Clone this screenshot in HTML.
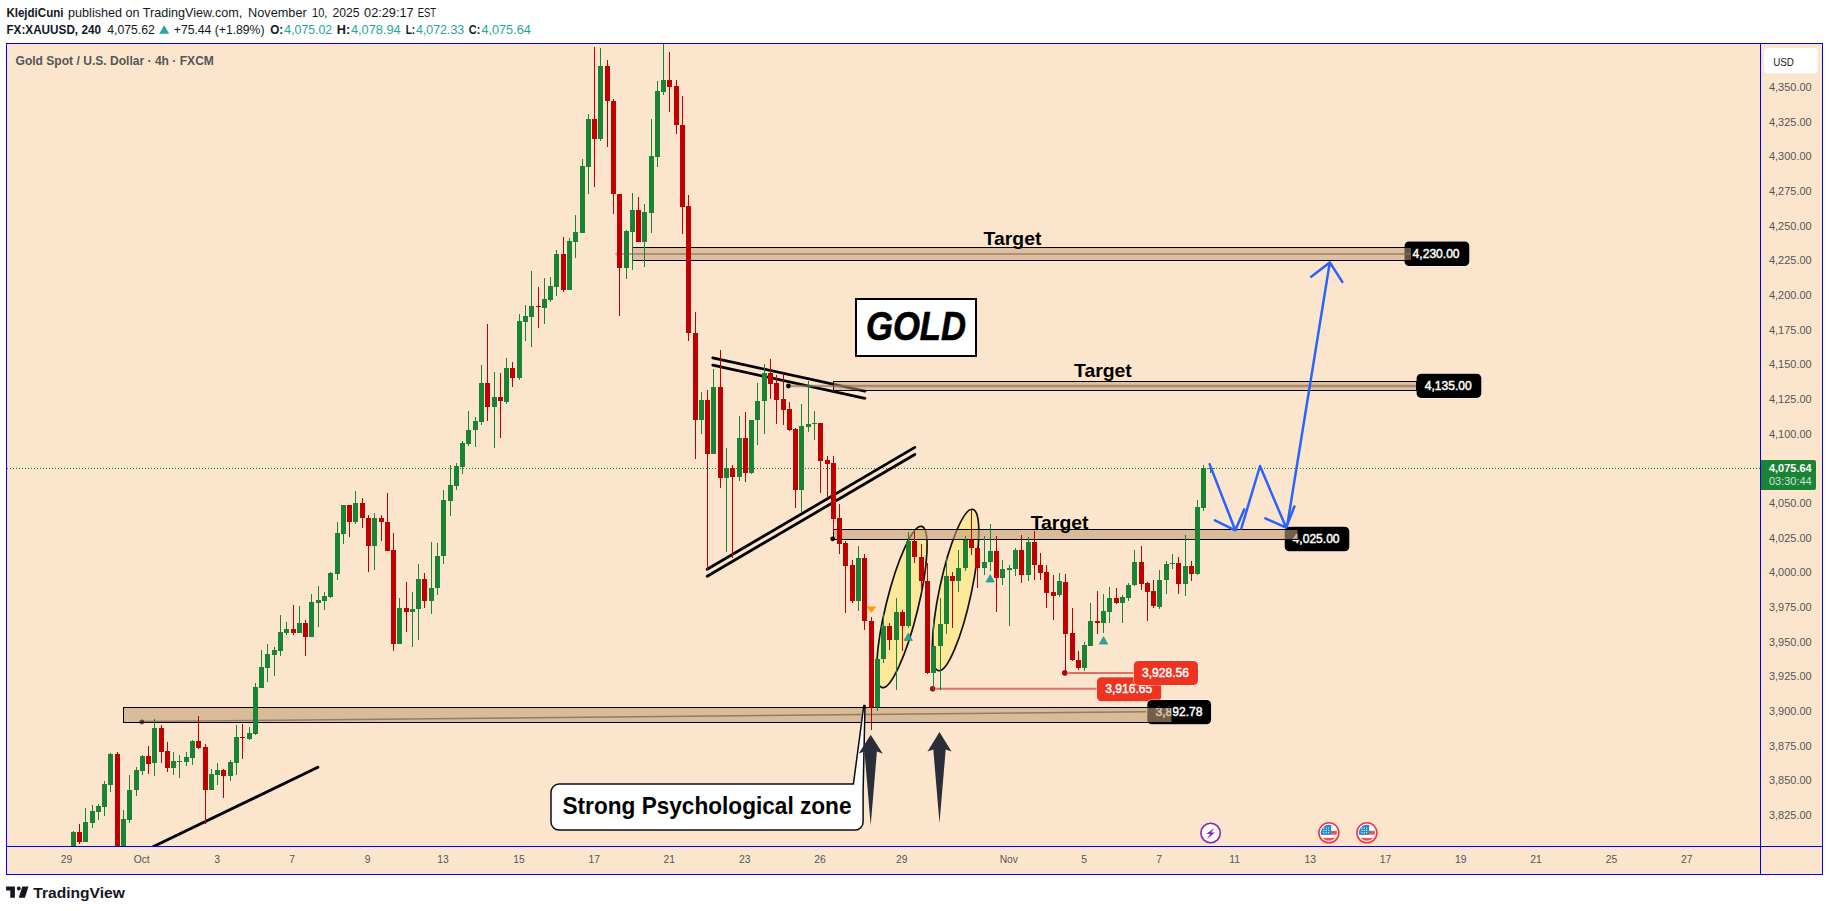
<!DOCTYPE html>
<html lang="en"><head><meta charset="utf-8"><title>XAUUSD chart</title>
<style>
html,body{margin:0;padding:0;background:#fff;}
body{width:1829px;height:911px;overflow:hidden;position:relative;font-family:"Liberation Sans", Arial, sans-serif;}
svg{position:absolute;left:0;top:0;display:block;}
text{font-family:"Liberation Sans", Arial, sans-serif;}
.b{font-weight:bold;}
</style></head><body>
<svg width="1829" height="911" viewBox="0 0 1829 911">

<g fill="#131722" font-size="12.6px">
<text x="6.4" y="16.5" class="b" textLength="57.1" lengthAdjust="spacingAndGlyphs">KlejdiCuni</text>
<text x="68.1" y="16.5" textLength="174.1" lengthAdjust="spacingAndGlyphs">published on TradingView.com,</text>
<text x="248" y="16.5" textLength="58.7" lengthAdjust="spacingAndGlyphs">November</text>
<text x="312" y="16.5" textLength="15.4" lengthAdjust="spacingAndGlyphs">10,</text>
<text x="332.4" y="16.5" textLength="27.1" lengthAdjust="spacingAndGlyphs">2025</text>
<text x="364.1" y="16.5" textLength="49.5" lengthAdjust="spacingAndGlyphs">02:29:17</text>
<text x="417.7" y="16.5" textLength="18.4" lengthAdjust="spacingAndGlyphs">EST</text>
<text x="6.4" y="33.7" class="b" textLength="94.6" lengthAdjust="spacingAndGlyphs">FX:XAUUSD, 240</text>
<text x="107.2" y="33.7" textLength="47.7" lengthAdjust="spacingAndGlyphs">4,075.62</text>
<path d="M159.2 33.7 L164.2 25.3 L169.2 33.7 Z" fill="#26a69a"/>
<text x="173.8" y="33.7" textLength="90.7" lengthAdjust="spacingAndGlyphs">+75.44 (+1.89%)</text>
<text x="270.2" y="33.7" class="b" textLength="13.0" lengthAdjust="spacingAndGlyphs">O:</text>
<text x="284.3" y="33.7" fill="#26a69a" textLength="47.9" lengthAdjust="spacingAndGlyphs">4,075.02</text>
<text x="336.8" y="33.7" class="b" textLength="13.4" lengthAdjust="spacingAndGlyphs">H:</text>
<text x="350.9" y="33.7" fill="#26a69a" textLength="49.8" lengthAdjust="spacingAndGlyphs">4,078.94</text>
<text x="405.7" y="33.7" class="b" textLength="9.5" lengthAdjust="spacingAndGlyphs">L:</text>
<text x="416.0" y="33.7" fill="#26a69a" textLength="48.2" lengthAdjust="spacingAndGlyphs">4,072.33</text>
<text x="468.8" y="33.7" class="b" textLength="11.5" lengthAdjust="spacingAndGlyphs">C:</text>
<text x="481.4" y="33.7" fill="#26a69a" textLength="49.4" lengthAdjust="spacingAndGlyphs">4,075.64</text>
</g>
<rect x="6.5" y="43.5" width="1816" height="831" fill="#fce5cd" stroke="#0000ff" stroke-width="1"/>
<path d="M1760.5 43.5 V874.5 M6.5 846.5 H1822.5" stroke="#0000ff" stroke-width="1" fill="none"/>
<defs><clipPath id="cc"><rect x="7" y="44" width="1753" height="802"/></clipPath></defs>
<g clip-path="url(#cc)">
<path d="M7 468.5 H1760" stroke="#188434" stroke-width="1" stroke-dasharray="1 2" fill="none" shape-rendering="crispEdges"/>
<path d="M1064.8 672.9 H1134 M932.7 688.8 H1097" stroke="#e26e64" stroke-width="2" fill="none"/>
<circle cx="1064.8" cy="672.9" r="3.6" fill="#fff" fill-opacity=".7"/><circle cx="1064.8" cy="672.9" r="2.8" fill="#c00000"/>
<circle cx="932.7" cy="688.8" r="3.6" fill="#fff" fill-opacity=".7"/><circle cx="932.7" cy="688.8" r="2.8" fill="#c00000"/>
<rect x="1096.4" y="676.7" width="65.3" height="25" rx="5" fill="#fff" fill-opacity="0.75"/>
<rect x="1096.9" y="677.2" width="64.3" height="24" rx="4.5" fill="#ee3320"/>
<text x="1105.3" y="693.4" fill="#fff" font-size="12px" stroke="#fff" stroke-width="0.45" textLength="47" lengthAdjust="spacingAndGlyphs">3,916.65</text>
<rect x="1133.3" y="660.4" width="65.2" height="25.2" rx="5" fill="#fff" fill-opacity="0.75"/>
<rect x="1133.8" y="660.9" width="64.2" height="24.2" rx="4.5" fill="#ee3320"/>
<text x="1142" y="677.2" fill="#fff" font-size="12px" stroke="#fff" stroke-width="0.45" textLength="47" lengthAdjust="spacingAndGlyphs">3,928.56</text>
<rect x="1146.8" y="699.4" width="64.8" height="25.4" rx="5" fill="#fff" fill-opacity="0.75"/>
<rect x="1147.3" y="699.9" width="63.8" height="24.4" rx="4.5" fill="#000"/>
<text x="1155.5" y="716.3" fill="#fff" font-size="12px" stroke="#fff" stroke-width="0.45" textLength="47" lengthAdjust="spacingAndGlyphs">3,892.78</text>
<rect x="1284.2" y="526.2" width="65.6" height="25.6" rx="5" fill="#fff" fill-opacity="0.75"/>
<rect x="1284.7" y="526.7" width="64.6" height="24.6" rx="4.5" fill="#000"/>
<text x="1292.6" y="543.2" fill="#fff" font-size="12px" stroke="#fff" stroke-width="0.45" textLength="47" lengthAdjust="spacingAndGlyphs">4,025.00</text>
<rect x="1404.0" y="241.0" width="65.8" height="25.6" rx="5" fill="#fff" fill-opacity="0.75"/>
<rect x="1404.5" y="241.5" width="64.8" height="24.6" rx="4.5" fill="#000"/>
<text x="1412.6" y="258.0" fill="#fff" font-size="12px" stroke="#fff" stroke-width="0.45" textLength="47" lengthAdjust="spacingAndGlyphs">4,230.00</text>
<rect x="1416.1" y="373.2" width="65.7" height="25.2" rx="5" fill="#fff" fill-opacity="0.75"/>
<rect x="1416.6" y="373.7" width="64.7" height="24.2" rx="4.5" fill="#000"/>
<text x="1424.8" y="390.0" fill="#fff" font-size="12px" stroke="#fff" stroke-width="0.45" textLength="47" lengthAdjust="spacingAndGlyphs">4,135.00</text>
<ellipse cx="901.9" cy="607" rx="16" ry="83" transform="rotate(13.8 901.9 607)" fill="#ffeb3b" fill-opacity="0.36" stroke="#111" stroke-width="1.7"/>
<ellipse cx="955.6" cy="590" rx="16" ry="82.5" transform="rotate(12 955.6 590)" fill="#ffeb3b" fill-opacity="0.36" stroke="#111" stroke-width="1.7"/>
<path d="M712.8 357.9 L864.9 391.2 M712.8 365.2 L864.9 398.3" stroke="#000" stroke-width="2.8" stroke-linecap="round" fill="none"/>
<rect x="632.5" y="247.5" width="779.0" height="13.0" fill="#c29c76" fill-opacity="0.52" stroke="#000" stroke-width="1"/>
<path d="M617 254 H1411" stroke="#8a6f58" stroke-opacity=".6" stroke-width="2.2" fill="none"/>
<rect x="833.5" y="381.5" width="583.0" height="9.0" fill="#c29c76" fill-opacity="0.5" stroke="#000" stroke-width="1"/>
<path d="M788.4 386 H1416" stroke="#8a6f58" stroke-opacity=".65" stroke-width="2.4" fill="none"/>
<rect x="833.5" y="529.5" width="464.5" height="10.0" fill="#c29c76" fill-opacity="0.6" stroke="#000" stroke-width="1"/>
<rect x="123.5" y="707.5" width="1048.5" height="15.0" fill="#c29c76" fill-opacity="0.6" stroke="#000" stroke-width="1"/>
<path d="M141.8 721.5 L1146 711.8" stroke="#7d6651" stroke-opacity=".75" stroke-width="1.5" fill="none"/>
<circle cx="788.4" cy="386" r="2.4" fill="#000"/><circle cx="832.7" cy="538.8" r="2.4" fill="#000"/><circle cx="141.8" cy="722" r="2.4" fill="#000" fill-opacity=".6"/><circle cx="617" cy="254" r="1.8" fill="#888" fill-opacity=".6"/>
<g stroke="#000" stroke-width="2.8" stroke-linecap="round" fill="none">
<path d="M707.2 569.3 L914.8 447.4 M707.2 576.3 L914.8 454.5"/>
<path d="M150 848.2 L317.9 767.3"/>
</g>
<path d="M866.3 606.6 h10 l-5 6.5 z" fill="#ff9800"/>
<path d="M904.0 640.5 h8.4 l-4.2 -7.5 z" fill="#26a69a" stroke="#1b8a80" stroke-width=".6"/>
<path d="M986.0 582.1 h8.4 l-4.2 -7.5 z" fill="#26a69a" stroke="#1b8a80" stroke-width=".6"/>
<path d="M1099.3 644.1 h8.4 l-4.2 -7.5 z" fill="#26a69a" stroke="#1b8a80" stroke-width=".6"/>
<path d="M1207 468.5 h8 M1210.5 464 v9" stroke="#188434" stroke-width="1" shape-rendering="crispEdges"/>
<g stroke="#2962ff" stroke-width="2.5" stroke-linecap="round" stroke-linejoin="round" fill="none">
<path d="M1209.6 464.1 L1235.3 530.3 M1214.9 520.4 L1235.3 530.3 L1244.2 509.4"/>
<path d="M1241.3 528.5 L1260 466 L1286.1 527.6 M1265.4 518.4 L1286.1 527.6 L1294.4 506.5"/>
<path d="M1287.4 524.3 L1329.8 262.4 M1311.2 276.7 L1329.8 262.4 L1342.3 281.9"/>
</g>
<g shape-rendering="crispEdges">
<rect x="73" y="831" width="1" height="19" fill="#188434"/><rect x="71" y="832" width="5" height="18" fill="#188434"/>
<rect x="79" y="824" width="1" height="20" fill="#c00000"/><rect x="77" y="832" width="5" height="10" fill="#c00000"/>
<rect x="85" y="808" width="1" height="34" fill="#188434"/><rect x="83" y="822" width="5" height="20" fill="#188434"/>
<rect x="92" y="805" width="1" height="23" fill="#188434"/><rect x="90" y="811" width="5" height="12" fill="#188434"/>
<rect x="98" y="804" width="1" height="16" fill="#188434"/><rect x="96" y="806" width="5" height="6" fill="#188434"/>
<rect x="104" y="781" width="1" height="35" fill="#188434"/><rect x="102" y="784" width="5" height="23" fill="#188434"/>
<rect x="110" y="753" width="1" height="39" fill="#188434"/><rect x="108" y="754" width="5" height="31" fill="#188434"/>
<rect x="117" y="752" width="1" height="98" fill="#c00000"/><rect x="115" y="754" width="5" height="96" fill="#c00000"/>
<rect x="123" y="810" width="1" height="40" fill="#188434"/><rect x="121" y="819" width="5" height="31" fill="#188434"/>
<rect x="129" y="775" width="1" height="48" fill="#188434"/><rect x="127" y="790" width="5" height="30" fill="#188434"/>
<rect x="136" y="767" width="1" height="29" fill="#188434"/><rect x="134" y="770" width="5" height="20" fill="#188434"/>
<rect x="142" y="755" width="1" height="20" fill="#188434"/><rect x="140" y="756" width="5" height="15" fill="#188434"/>
<rect x="148" y="746" width="1" height="28" fill="#c00000"/><rect x="146" y="756" width="5" height="8" fill="#c00000"/>
<rect x="154" y="719" width="1" height="57" fill="#188434"/><rect x="152" y="728" width="5" height="35" fill="#188434"/>
<rect x="161" y="725" width="1" height="38" fill="#c00000"/><rect x="159" y="728" width="5" height="24" fill="#c00000"/>
<rect x="167" y="742" width="1" height="30" fill="#c00000"/><rect x="165" y="751" width="5" height="17" fill="#c00000"/>
<rect x="173" y="752" width="1" height="23" fill="#188434"/><rect x="171" y="761" width="5" height="7" fill="#188434"/>
<rect x="179" y="755" width="1" height="23" fill="#188434"/><rect x="177" y="761" width="5" height="1" fill="#188434"/>
<rect x="186" y="752" width="1" height="14" fill="#188434"/><rect x="184" y="757" width="5" height="5" fill="#188434"/>
<rect x="192" y="740" width="1" height="25" fill="#188434"/><rect x="190" y="741" width="5" height="17" fill="#188434"/>
<rect x="198" y="716" width="1" height="33" fill="#c00000"/><rect x="196" y="741" width="5" height="7" fill="#c00000"/>
<rect x="205" y="744" width="1" height="80" fill="#c00000"/><rect x="203" y="747" width="5" height="43" fill="#c00000"/>
<rect x="211" y="769" width="1" height="21" fill="#188434"/><rect x="209" y="774" width="5" height="16" fill="#188434"/>
<rect x="217" y="763" width="1" height="22" fill="#188434"/><rect x="215" y="770" width="5" height="5" fill="#188434"/>
<rect x="223" y="769" width="1" height="29" fill="#c00000"/><rect x="221" y="770" width="5" height="6" fill="#c00000"/>
<rect x="230" y="760" width="1" height="21" fill="#188434"/><rect x="228" y="762" width="5" height="14" fill="#188434"/>
<rect x="236" y="725" width="1" height="50" fill="#188434"/><rect x="234" y="737" width="5" height="26" fill="#188434"/>
<rect x="242" y="724" width="1" height="35" fill="#c00000"/><rect x="240" y="737" width="5" height="1" fill="#c00000"/>
<rect x="249" y="727" width="1" height="13" fill="#188434"/><rect x="247" y="733" width="5" height="6" fill="#188434"/>
<rect x="255" y="683" width="1" height="52" fill="#188434"/><rect x="253" y="687" width="5" height="47" fill="#188434"/>
<rect x="261" y="650" width="1" height="38" fill="#188434"/><rect x="259" y="667" width="5" height="21" fill="#188434"/>
<rect x="267" y="644" width="1" height="38" fill="#188434"/><rect x="265" y="654" width="5" height="14" fill="#188434"/>
<rect x="274" y="647" width="1" height="29" fill="#188434"/><rect x="272" y="650" width="5" height="5" fill="#188434"/>
<rect x="280" y="615" width="1" height="41" fill="#188434"/><rect x="278" y="632" width="5" height="19" fill="#188434"/>
<rect x="286" y="622" width="1" height="13" fill="#188434"/><rect x="284" y="629" width="5" height="4" fill="#188434"/>
<rect x="293" y="605" width="1" height="30" fill="#c00000"/><rect x="291" y="629" width="5" height="4" fill="#c00000"/>
<rect x="299" y="606" width="1" height="27" fill="#188434"/><rect x="297" y="623" width="5" height="10" fill="#188434"/>
<rect x="305" y="620" width="1" height="36" fill="#c00000"/><rect x="303" y="623" width="5" height="14" fill="#c00000"/>
<rect x="311" y="594" width="1" height="43" fill="#188434"/><rect x="309" y="602" width="5" height="35" fill="#188434"/>
<rect x="318" y="586" width="1" height="41" fill="#188434"/><rect x="316" y="600" width="5" height="3" fill="#188434"/>
<rect x="324" y="592" width="1" height="18" fill="#188434"/><rect x="322" y="596" width="5" height="5" fill="#188434"/>
<rect x="330" y="572" width="1" height="26" fill="#188434"/><rect x="328" y="573" width="5" height="24" fill="#188434"/>
<rect x="337" y="522" width="1" height="58" fill="#188434"/><rect x="335" y="533" width="5" height="41" fill="#188434"/>
<rect x="343" y="505" width="1" height="39" fill="#188434"/><rect x="341" y="505" width="5" height="29" fill="#188434"/>
<rect x="349" y="505" width="1" height="32" fill="#c00000"/><rect x="347" y="505" width="5" height="17" fill="#c00000"/>
<rect x="355" y="491" width="1" height="33" fill="#188434"/><rect x="353" y="503" width="5" height="19" fill="#188434"/>
<rect x="362" y="498" width="1" height="30" fill="#c00000"/><rect x="360" y="503" width="5" height="15" fill="#c00000"/>
<rect x="368" y="515" width="1" height="57" fill="#c00000"/><rect x="366" y="518" width="5" height="28" fill="#c00000"/>
<rect x="374" y="513" width="1" height="57" fill="#188434"/><rect x="372" y="518" width="5" height="28" fill="#188434"/>
<rect x="381" y="515" width="1" height="26" fill="#c00000"/><rect x="379" y="518" width="5" height="4" fill="#c00000"/>
<rect x="387" y="493" width="1" height="58" fill="#c00000"/><rect x="385" y="522" width="5" height="29" fill="#c00000"/>
<rect x="393" y="533" width="1" height="118" fill="#c00000"/><rect x="391" y="550" width="5" height="94" fill="#c00000"/>
<rect x="399" y="598" width="1" height="46" fill="#188434"/><rect x="397" y="608" width="5" height="36" fill="#188434"/>
<rect x="406" y="582" width="1" height="50" fill="#c00000"/><rect x="404" y="608" width="5" height="4" fill="#c00000"/>
<rect x="412" y="592" width="1" height="55" fill="#188434"/><rect x="410" y="609" width="5" height="3" fill="#188434"/>
<rect x="418" y="564" width="1" height="76" fill="#188434"/><rect x="416" y="579" width="5" height="30" fill="#188434"/>
<rect x="424" y="573" width="1" height="35" fill="#c00000"/><rect x="422" y="579" width="5" height="22" fill="#c00000"/>
<rect x="431" y="542" width="1" height="72" fill="#188434"/><rect x="429" y="588" width="5" height="13" fill="#188434"/>
<rect x="437" y="543" width="1" height="52" fill="#188434"/><rect x="435" y="556" width="5" height="32" fill="#188434"/>
<rect x="443" y="490" width="1" height="74" fill="#188434"/><rect x="441" y="500" width="5" height="56" fill="#188434"/>
<rect x="450" y="465" width="1" height="51" fill="#188434"/><rect x="448" y="485" width="5" height="16" fill="#188434"/>
<rect x="456" y="463" width="1" height="27" fill="#188434"/><rect x="454" y="466" width="5" height="20" fill="#188434"/>
<rect x="462" y="441" width="1" height="33" fill="#188434"/><rect x="460" y="443" width="5" height="24" fill="#188434"/>
<rect x="468" y="411" width="1" height="35" fill="#188434"/><rect x="466" y="430" width="5" height="14" fill="#188434"/>
<rect x="475" y="417" width="1" height="30" fill="#188434"/><rect x="473" y="421" width="5" height="9" fill="#188434"/>
<rect x="481" y="365" width="1" height="60" fill="#188434"/><rect x="479" y="383" width="5" height="39" fill="#188434"/>
<rect x="487" y="324" width="1" height="97" fill="#c00000"/><rect x="485" y="383" width="5" height="24" fill="#c00000"/>
<rect x="494" y="372" width="1" height="76" fill="#188434"/><rect x="492" y="397" width="5" height="10" fill="#188434"/>
<rect x="500" y="373" width="1" height="65" fill="#c00000"/><rect x="498" y="397" width="5" height="4" fill="#c00000"/>
<rect x="506" y="358" width="1" height="46" fill="#188434"/><rect x="504" y="368" width="5" height="34" fill="#188434"/>
<rect x="512" y="362" width="1" height="25" fill="#c00000"/><rect x="510" y="368" width="5" height="10" fill="#c00000"/>
<rect x="519" y="314" width="1" height="66" fill="#188434"/><rect x="517" y="321" width="5" height="57" fill="#188434"/>
<rect x="525" y="305" width="1" height="36" fill="#188434"/><rect x="523" y="316" width="5" height="6" fill="#188434"/>
<rect x="531" y="271" width="1" height="76" fill="#188434"/><rect x="529" y="306" width="5" height="11" fill="#188434"/>
<rect x="538" y="287" width="1" height="41" fill="#c00000"/><rect x="536" y="306" width="5" height="1" fill="#c00000"/>
<rect x="544" y="278" width="1" height="46" fill="#188434"/><rect x="542" y="299" width="5" height="9" fill="#188434"/>
<rect x="550" y="277" width="1" height="25" fill="#188434"/><rect x="548" y="286" width="5" height="14" fill="#188434"/>
<rect x="556" y="250" width="1" height="46" fill="#188434"/><rect x="554" y="254" width="5" height="33" fill="#188434"/>
<rect x="563" y="237" width="1" height="55" fill="#c00000"/><rect x="561" y="254" width="5" height="36" fill="#c00000"/>
<rect x="569" y="238" width="1" height="52" fill="#188434"/><rect x="567" y="241" width="5" height="49" fill="#188434"/>
<rect x="575" y="215" width="1" height="43" fill="#188434"/><rect x="573" y="232" width="5" height="10" fill="#188434"/>
<rect x="582" y="159" width="1" height="74" fill="#188434"/><rect x="580" y="166" width="5" height="67" fill="#188434"/>
<rect x="588" y="114" width="1" height="80" fill="#188434"/><rect x="586" y="119" width="5" height="48" fill="#188434"/>
<rect x="594" y="47" width="1" height="140" fill="#c00000"/><rect x="592" y="119" width="5" height="20" fill="#c00000"/>
<rect x="600" y="48" width="1" height="93" fill="#188434"/><rect x="598" y="66" width="5" height="73" fill="#188434"/>
<rect x="607" y="60" width="1" height="87" fill="#c00000"/><rect x="605" y="66" width="5" height="35" fill="#c00000"/>
<rect x="613" y="99" width="1" height="115" fill="#c00000"/><rect x="611" y="101" width="5" height="93" fill="#c00000"/>
<rect x="619" y="194" width="1" height="122" fill="#c00000"/><rect x="617" y="194" width="5" height="74" fill="#c00000"/>
<rect x="626" y="230" width="1" height="49" fill="#188434"/><rect x="624" y="231" width="5" height="37" fill="#188434"/>
<rect x="632" y="193" width="1" height="77" fill="#188434"/><rect x="630" y="210" width="5" height="22" fill="#188434"/>
<rect x="638" y="197" width="1" height="45" fill="#c00000"/><rect x="636" y="210" width="5" height="32" fill="#c00000"/>
<rect x="644" y="204" width="1" height="63" fill="#188434"/><rect x="642" y="212" width="5" height="30" fill="#188434"/>
<rect x="651" y="119" width="1" height="114" fill="#188434"/><rect x="649" y="156" width="5" height="57" fill="#188434"/>
<rect x="657" y="81" width="1" height="86" fill="#188434"/><rect x="655" y="91" width="5" height="66" fill="#188434"/>
<rect x="663" y="44" width="1" height="51" fill="#188434"/><rect x="661" y="80" width="5" height="12" fill="#188434"/>
<rect x="669" y="52" width="1" height="60" fill="#c00000"/><rect x="667" y="80" width="5" height="7" fill="#c00000"/>
<rect x="676" y="80" width="1" height="54" fill="#c00000"/><rect x="674" y="86" width="5" height="39" fill="#c00000"/>
<rect x="682" y="96" width="1" height="138" fill="#c00000"/><rect x="680" y="125" width="5" height="82" fill="#c00000"/>
<rect x="688" y="195" width="1" height="146" fill="#c00000"/><rect x="686" y="206" width="5" height="127" fill="#c00000"/>
<rect x="695" y="312" width="1" height="147" fill="#c00000"/><rect x="693" y="333" width="5" height="87" fill="#c00000"/>
<rect x="701" y="392" width="1" height="42" fill="#188434"/><rect x="699" y="400" width="5" height="20" fill="#188434"/>
<rect x="707" y="390" width="1" height="180" fill="#c00000"/><rect x="705" y="400" width="5" height="54" fill="#c00000"/>
<rect x="713" y="369" width="1" height="85" fill="#188434"/><rect x="711" y="387" width="5" height="67" fill="#188434"/>
<rect x="720" y="350" width="1" height="138" fill="#c00000"/><rect x="718" y="387" width="5" height="91" fill="#c00000"/>
<rect x="726" y="448" width="1" height="104" fill="#188434"/><rect x="724" y="468" width="5" height="10" fill="#188434"/>
<rect x="732" y="465" width="1" height="93" fill="#c00000"/><rect x="730" y="468" width="5" height="9" fill="#c00000"/>
<rect x="739" y="416" width="1" height="65" fill="#188434"/><rect x="737" y="438" width="5" height="39" fill="#188434"/>
<rect x="745" y="412" width="1" height="70" fill="#c00000"/><rect x="743" y="438" width="5" height="35" fill="#c00000"/>
<rect x="751" y="420" width="1" height="54" fill="#188434"/><rect x="749" y="420" width="5" height="53" fill="#188434"/>
<rect x="757" y="383" width="1" height="62" fill="#188434"/><rect x="755" y="401" width="5" height="19" fill="#188434"/>
<rect x="764" y="364" width="1" height="70" fill="#188434"/><rect x="762" y="373" width="5" height="28" fill="#188434"/>
<rect x="770" y="359" width="1" height="40" fill="#c00000"/><rect x="768" y="373" width="5" height="11" fill="#c00000"/>
<rect x="776" y="375" width="1" height="49" fill="#c00000"/><rect x="774" y="383" width="5" height="17" fill="#c00000"/>
<rect x="783" y="373" width="1" height="52" fill="#c00000"/><rect x="781" y="399" width="5" height="11" fill="#c00000"/>
<rect x="789" y="402" width="1" height="29" fill="#c00000"/><rect x="787" y="409" width="5" height="21" fill="#c00000"/>
<rect x="795" y="428" width="1" height="80" fill="#c00000"/><rect x="793" y="429" width="5" height="61" fill="#c00000"/>
<rect x="801" y="404" width="1" height="109" fill="#188434"/><rect x="799" y="426" width="5" height="64" fill="#188434"/>
<rect x="808" y="381" width="1" height="51" fill="#188434"/><rect x="806" y="424" width="5" height="3" fill="#188434"/>
<rect x="814" y="411" width="1" height="29" fill="#188434"/><rect x="812" y="423" width="5" height="1" fill="#188434"/>
<rect x="820" y="423" width="1" height="70" fill="#c00000"/><rect x="818" y="423" width="5" height="38" fill="#c00000"/>
<rect x="827" y="456" width="1" height="42" fill="#c00000"/><rect x="825" y="460" width="5" height="4" fill="#c00000"/>
<rect x="833" y="456" width="1" height="76" fill="#c00000"/><rect x="831" y="463" width="5" height="56" fill="#c00000"/>
<rect x="839" y="504" width="1" height="50" fill="#c00000"/><rect x="837" y="518" width="5" height="26" fill="#c00000"/>
<rect x="845" y="541" width="1" height="72" fill="#c00000"/><rect x="843" y="543" width="5" height="23" fill="#c00000"/>
<rect x="852" y="560" width="1" height="43" fill="#c00000"/><rect x="850" y="565" width="5" height="36" fill="#c00000"/>
<rect x="858" y="546" width="1" height="65" fill="#188434"/><rect x="856" y="558" width="5" height="43" fill="#188434"/>
<rect x="864" y="554" width="1" height="76" fill="#c00000"/><rect x="862" y="558" width="5" height="63" fill="#c00000"/>
<rect x="871" y="617" width="1" height="113" fill="#c00000"/><rect x="869" y="621" width="5" height="86" fill="#c00000"/>
<rect x="877" y="659" width="1" height="52" fill="#188434"/><rect x="875" y="659" width="5" height="48" fill="#188434"/>
<rect x="883" y="614" width="1" height="49" fill="#188434"/><rect x="881" y="626" width="5" height="33" fill="#188434"/>
<rect x="889" y="623" width="1" height="27" fill="#c00000"/><rect x="887" y="626" width="5" height="14" fill="#c00000"/>
<rect x="896" y="598" width="1" height="92" fill="#188434"/><rect x="894" y="612" width="5" height="28" fill="#188434"/>
<rect x="902" y="610" width="1" height="41" fill="#c00000"/><rect x="900" y="612" width="5" height="14" fill="#c00000"/>
<rect x="908" y="532" width="1" height="96" fill="#188434"/><rect x="906" y="541" width="5" height="85" fill="#188434"/>
<rect x="914" y="532" width="1" height="31" fill="#c00000"/><rect x="912" y="541" width="5" height="16" fill="#c00000"/>
<rect x="921" y="544" width="1" height="49" fill="#c00000"/><rect x="919" y="557" width="5" height="24" fill="#c00000"/>
<rect x="927" y="563" width="1" height="111" fill="#c00000"/><rect x="925" y="581" width="5" height="92" fill="#c00000"/>
<rect x="933" y="621" width="1" height="69" fill="#188434"/><rect x="931" y="646" width="5" height="27" fill="#188434"/>
<rect x="940" y="598" width="1" height="92" fill="#188434"/><rect x="938" y="624" width="5" height="22" fill="#188434"/>
<rect x="946" y="558" width="1" height="76" fill="#188434"/><rect x="944" y="576" width="5" height="48" fill="#188434"/>
<rect x="952" y="572" width="1" height="56" fill="#c00000"/><rect x="950" y="576" width="5" height="5" fill="#c00000"/>
<rect x="958" y="550" width="1" height="42" fill="#188434"/><rect x="956" y="568" width="5" height="13" fill="#188434"/>
<rect x="965" y="536" width="1" height="35" fill="#188434"/><rect x="963" y="540" width="5" height="28" fill="#188434"/>
<rect x="971" y="510" width="1" height="45" fill="#c00000"/><rect x="969" y="540" width="5" height="8" fill="#c00000"/>
<rect x="977" y="546" width="1" height="42" fill="#c00000"/><rect x="975" y="548" width="5" height="20" fill="#c00000"/>
<rect x="984" y="536" width="1" height="39" fill="#188434"/><rect x="982" y="562" width="5" height="6" fill="#188434"/>
<rect x="990" y="524" width="1" height="47" fill="#188434"/><rect x="988" y="551" width="5" height="11" fill="#188434"/>
<rect x="996" y="536" width="1" height="76" fill="#c00000"/><rect x="994" y="551" width="5" height="27" fill="#c00000"/>
<rect x="1002" y="560" width="1" height="25" fill="#188434"/><rect x="1000" y="569" width="5" height="9" fill="#188434"/>
<rect x="1009" y="565" width="1" height="61" fill="#188434"/><rect x="1007" y="568" width="5" height="2" fill="#188434"/>
<rect x="1015" y="548" width="1" height="28" fill="#188434"/><rect x="1013" y="550" width="5" height="19" fill="#188434"/>
<rect x="1021" y="535" width="1" height="48" fill="#c00000"/><rect x="1019" y="550" width="5" height="25" fill="#c00000"/>
<rect x="1028" y="537" width="1" height="44" fill="#188434"/><rect x="1026" y="542" width="5" height="33" fill="#188434"/>
<rect x="1034" y="531" width="1" height="49" fill="#c00000"/><rect x="1032" y="542" width="5" height="23" fill="#c00000"/>
<rect x="1040" y="553" width="1" height="27" fill="#c00000"/><rect x="1038" y="565" width="5" height="8" fill="#c00000"/>
<rect x="1046" y="565" width="1" height="43" fill="#c00000"/><rect x="1044" y="572" width="5" height="21" fill="#c00000"/>
<rect x="1053" y="575" width="1" height="45" fill="#c00000"/><rect x="1051" y="592" width="5" height="4" fill="#c00000"/>
<rect x="1059" y="573" width="1" height="24" fill="#188434"/><rect x="1057" y="581" width="5" height="14" fill="#188434"/>
<rect x="1065" y="574" width="1" height="99" fill="#c00000"/><rect x="1063" y="582" width="5" height="52" fill="#c00000"/>
<rect x="1072" y="608" width="1" height="53" fill="#c00000"/><rect x="1070" y="633" width="5" height="27" fill="#c00000"/>
<rect x="1078" y="651" width="1" height="19" fill="#c00000"/><rect x="1076" y="660" width="5" height="8" fill="#c00000"/>
<rect x="1084" y="642" width="1" height="29" fill="#188434"/><rect x="1082" y="645" width="5" height="23" fill="#188434"/>
<rect x="1090" y="603" width="1" height="43" fill="#188434"/><rect x="1088" y="621" width="5" height="25" fill="#188434"/>
<rect x="1097" y="591" width="1" height="43" fill="#c00000"/><rect x="1095" y="621" width="5" height="2" fill="#c00000"/>
<rect x="1103" y="594" width="1" height="39" fill="#188434"/><rect x="1101" y="611" width="5" height="12" fill="#188434"/>
<rect x="1109" y="587" width="1" height="36" fill="#188434"/><rect x="1107" y="598" width="5" height="14" fill="#188434"/>
<rect x="1116" y="588" width="1" height="16" fill="#c00000"/><rect x="1114" y="598" width="5" height="5" fill="#c00000"/>
<rect x="1122" y="595" width="1" height="28" fill="#188434"/><rect x="1120" y="597" width="5" height="6" fill="#188434"/>
<rect x="1128" y="583" width="1" height="18" fill="#188434"/><rect x="1126" y="585" width="5" height="13" fill="#188434"/>
<rect x="1134" y="550" width="1" height="36" fill="#188434"/><rect x="1132" y="562" width="5" height="23" fill="#188434"/>
<rect x="1141" y="546" width="1" height="44" fill="#c00000"/><rect x="1139" y="562" width="5" height="22" fill="#c00000"/>
<rect x="1147" y="582" width="1" height="39" fill="#c00000"/><rect x="1145" y="583" width="5" height="9" fill="#c00000"/>
<rect x="1153" y="580" width="1" height="28" fill="#c00000"/><rect x="1151" y="591" width="5" height="15" fill="#c00000"/>
<rect x="1159" y="570" width="1" height="39" fill="#188434"/><rect x="1157" y="580" width="5" height="27" fill="#188434"/>
<rect x="1166" y="561" width="1" height="33" fill="#188434"/><rect x="1164" y="564" width="5" height="16" fill="#188434"/>
<rect x="1172" y="554" width="1" height="15" fill="#188434"/><rect x="1170" y="563" width="5" height="1" fill="#188434"/>
<rect x="1178" y="557" width="1" height="37" fill="#c00000"/><rect x="1176" y="563" width="5" height="21" fill="#c00000"/>
<rect x="1185" y="535" width="1" height="61" fill="#188434"/><rect x="1183" y="566" width="5" height="18" fill="#188434"/>
<rect x="1191" y="561" width="1" height="20" fill="#c00000"/><rect x="1189" y="566" width="5" height="8" fill="#c00000"/>
<rect x="1197" y="500" width="1" height="75" fill="#188434"/><rect x="1195" y="507" width="5" height="67" fill="#188434"/>
<rect x="1203" y="465" width="1" height="46" fill="#188434"/><rect x="1201" y="468" width="5" height="40" fill="#188434"/>
</g>
<path d="M559 784.1 H853.4 L863.8 705.6 L865 705.6 L863.1 792 V822.1 a8 8 0 0 1 -8 8 H559 a8 8 0 0 1 -8 -8 V792.1 a8 8 0 0 1 8 -8 z" fill="#fff" stroke="#0b0c10" stroke-width="1.5" stroke-linejoin="round"/>
<text x="562.5" y="814" font-size="24px" class="b" fill="#000" textLength="289" lengthAdjust="spacingAndGlyphs">Strong Psychological zone</text>
<path d="M870.7 734.8 L882.7 753.5 L876.9000000000001 751.5 L870.7 825.5 L864.5 751.5 L858.7 753.5 Z" fill="#2a2e39"/>
<path d="M939.5 732 L951.5 751.5 L945.7 749.5 L939.5 823.2 L933.3 749.5 L927.5 751.5 Z" fill="#2a2e39"/>
<g font-size="19px" class="b" fill="#000">
<text x="983.6" y="244.6" textLength="57.8" lengthAdjust="spacingAndGlyphs">Target</text>
<text x="1074" y="376.8" textLength="57.8" lengthAdjust="spacingAndGlyphs">Target</text>
<text x="1030.7" y="529.1" textLength="57.8" lengthAdjust="spacingAndGlyphs">Target</text>
</g>
<rect x="856" y="299" width="120" height="57" fill="#fff" stroke="#000" stroke-width="2"/>
<text x="866" y="339.9" font-size="41px" font-style="italic" class="b" fill="#000" stroke="#000" stroke-width="0.7" textLength="100" lengthAdjust="spacingAndGlyphs">GOLD</text>
<text x="15.5" y="64.7" font-size="12px" class="b" fill="#555" textLength="198.4" lengthAdjust="spacingAndGlyphs">Gold Spot / U.S. Dollar · 4h · FXCM</text>
<g><circle cx="1210.6" cy="833" r="9.7" fill="#fff" stroke="#8e24aa" stroke-width="1.6"/><path d="M1214.6 827.8 L1206.2 833.9 L1210.2 833.9 L1207.2 838.9 L1214.9 832.4 L1211.1 832.4 Z" fill="#8e24aa"/></g>
<g><clipPath id="f1328"><circle cx="1328.9" cy="832.8" r="8"/></clipPath><circle cx="1328.9" cy="832.8" r="10" fill="#fff" stroke="#f23645" stroke-width="1.6"/><g clip-path="url(#f1328)"><rect x="1319.9" y="823.8" width="18" height="18" fill="#fff"/><rect x="1319.9" y="824.8" width="18" height="1.6" fill="#f5a3a0"/><rect x="1319.9" y="830.8" width="18" height="3.9" fill="#ef5350"/><rect x="1319.9" y="837.9" width="18" height="3.2" fill="#ef5350"/><rect x="1319.9" y="823.8" width="11.2" height="10.9" fill="#1e88e5"/>
<rect x="1323.3" y="827.6" width="1.1" height="1.1" fill="#fff"/>
<rect x="1323.3" y="829.9" width="1.1" height="1.1" fill="#fff"/>
<rect x="1323.3" y="832.2" width="1.1" height="1.1" fill="#fff"/>
<rect x="1325.7" y="827.6" width="1.1" height="1.1" fill="#fff"/>
<rect x="1325.7" y="829.9" width="1.1" height="1.1" fill="#fff"/>
<rect x="1325.7" y="832.2" width="1.1" height="1.1" fill="#fff"/>
<rect x="1328.1" y="827.6" width="1.1" height="1.1" fill="#fff"/>
<rect x="1328.1" y="829.9" width="1.1" height="1.1" fill="#fff"/>
<rect x="1328.1" y="832.2" width="1.1" height="1.1" fill="#fff"/>
</g></g>
<g><clipPath id="f1366"><circle cx="1366.9" cy="832.8" r="8"/></clipPath><circle cx="1366.9" cy="832.8" r="10" fill="#fff" stroke="#f23645" stroke-width="1.6"/><g clip-path="url(#f1366)"><rect x="1357.9" y="823.8" width="18" height="18" fill="#fff"/><rect x="1357.9" y="824.8" width="18" height="1.6" fill="#f5a3a0"/><rect x="1357.9" y="830.8" width="18" height="3.9" fill="#ef5350"/><rect x="1357.9" y="837.9" width="18" height="3.2" fill="#ef5350"/><rect x="1357.9" y="823.8" width="11.2" height="10.9" fill="#1e88e5"/>
<rect x="1361.3" y="827.6" width="1.1" height="1.1" fill="#fff"/>
<rect x="1361.3" y="829.9" width="1.1" height="1.1" fill="#fff"/>
<rect x="1361.3" y="832.2" width="1.1" height="1.1" fill="#fff"/>
<rect x="1363.7" y="827.6" width="1.1" height="1.1" fill="#fff"/>
<rect x="1363.7" y="829.9" width="1.1" height="1.1" fill="#fff"/>
<rect x="1363.7" y="832.2" width="1.1" height="1.1" fill="#fff"/>
<rect x="1366.1" y="827.6" width="1.1" height="1.1" fill="#fff"/>
<rect x="1366.1" y="829.9" width="1.1" height="1.1" fill="#fff"/>
<rect x="1366.1" y="832.2" width="1.1" height="1.1" fill="#fff"/>
</g></g>
</g>
<rect x="1764" y="48" width="54" height="25.5" rx="4" fill="#fff"/>
<text x="1773.2" y="65.9" font-size="11.5px" fill="#131722" textLength="20.7" lengthAdjust="spacingAndGlyphs">USD</text>
<g font-size="11px" fill="#555555">
<text x="1769" y="91.1" textLength="42.6" lengthAdjust="spacingAndGlyphs">4,350.00</text>
<text x="1769" y="125.8" textLength="42.6" lengthAdjust="spacingAndGlyphs">4,325.00</text>
<text x="1769" y="160.4" textLength="42.6" lengthAdjust="spacingAndGlyphs">4,300.00</text>
<text x="1769" y="195.1" textLength="42.6" lengthAdjust="spacingAndGlyphs">4,275.00</text>
<text x="1769" y="229.8" textLength="42.6" lengthAdjust="spacingAndGlyphs">4,250.00</text>
<text x="1769" y="264.4" textLength="42.6" lengthAdjust="spacingAndGlyphs">4,225.00</text>
<text x="1769" y="299.1" textLength="42.6" lengthAdjust="spacingAndGlyphs">4,200.00</text>
<text x="1769" y="333.8" textLength="42.6" lengthAdjust="spacingAndGlyphs">4,175.00</text>
<text x="1769" y="368.4" textLength="42.6" lengthAdjust="spacingAndGlyphs">4,150.00</text>
<text x="1769" y="403.1" textLength="42.6" lengthAdjust="spacingAndGlyphs">4,125.00</text>
<text x="1769" y="437.8" textLength="42.6" lengthAdjust="spacingAndGlyphs">4,100.00</text>
<text x="1769" y="472.4" textLength="42.6" lengthAdjust="spacingAndGlyphs">4,075.00</text>
<text x="1769" y="507.1" textLength="42.6" lengthAdjust="spacingAndGlyphs">4,050.00</text>
<text x="1769" y="541.8" textLength="42.6" lengthAdjust="spacingAndGlyphs">4,025.00</text>
<text x="1769" y="576.4" textLength="42.6" lengthAdjust="spacingAndGlyphs">4,000.00</text>
<text x="1769" y="611.1" textLength="42.6" lengthAdjust="spacingAndGlyphs">3,975.00</text>
<text x="1769" y="645.8" textLength="42.6" lengthAdjust="spacingAndGlyphs">3,950.00</text>
<text x="1769" y="680.4" textLength="42.6" lengthAdjust="spacingAndGlyphs">3,925.00</text>
<text x="1769" y="715.1" textLength="42.6" lengthAdjust="spacingAndGlyphs">3,900.00</text>
<text x="1769" y="749.8" textLength="42.6" lengthAdjust="spacingAndGlyphs">3,875.00</text>
<text x="1769" y="784.4" textLength="42.6" lengthAdjust="spacingAndGlyphs">3,850.00</text>
<text x="1769" y="819.1" textLength="42.6" lengthAdjust="spacingAndGlyphs">3,825.00</text>
</g>
<path d="M1761 460 h53 a2 2 0 0 1 2 2 v26 a2 2 0 0 1 -2 2 h-53 z" fill="#188434"/>
<text x="1769" y="471.8" font-size="11px" class="b" fill="#fff" textLength="42.6" lengthAdjust="spacingAndGlyphs">4,075.64</text>
<text x="1769" y="484.9" font-size="11px" fill="#fff" fill-opacity=".8" textLength="42.6" lengthAdjust="spacingAndGlyphs">03:30:44</text>
<g font-size="10.3px" fill="#555555" text-anchor="middle">
<text x="66.4" y="862.8">29</text>
<text x="141.7" y="862.8">Oct</text>
<text x="217" y="862.8">3</text>
<text x="292.2" y="862.8">7</text>
<text x="367.6" y="862.8">9</text>
<text x="443.1" y="862.8">13</text>
<text x="519" y="862.8">15</text>
<text x="594.2" y="862.8">17</text>
<text x="669.2" y="862.8">21</text>
<text x="744.7" y="862.8">23</text>
<text x="820" y="862.8">26</text>
<text x="901.7" y="862.8">29</text>
<text x="1008.8" y="862.8">Nov</text>
<text x="1084" y="862.8">5</text>
<text x="1159" y="862.8">7</text>
<text x="1234.7" y="862.8">11</text>
<text x="1310.2" y="862.8">13</text>
<text x="1385.5" y="862.8">17</text>
<text x="1460.8" y="862.8">19</text>
<text x="1536" y="862.8">21</text>
<text x="1611.5" y="862.8">25</text>
<text x="1686.8" y="862.8">27</text>
</g>
<g fill="#131722"><path d="M6.1 886.6 H14.9 V897.7 H10.3 V890.6 H6.1 Z"/><circle cx="18.8" cy="888.5" r="1.9"/><path d="M22.3 886.6 H28.5 L24.9 897.7 H18.7 Z"/>
<text x="33.3" y="897.5" font-size="15px" class="b" textLength="91.5" lengthAdjust="spacingAndGlyphs">TradingView</text></g>
</svg></body></html>
